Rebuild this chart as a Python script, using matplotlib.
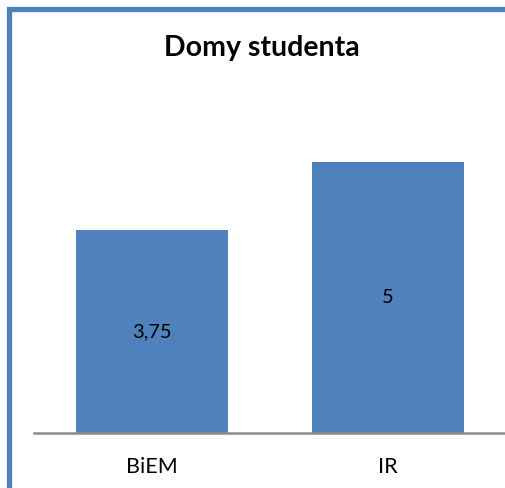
import matplotlib
matplotlib.use("Agg")
import matplotlib.pyplot as plt
from matplotlib.patches import Rectangle

categories = ["BiEM", "IR"]
values = [3.75, 5]
labels = ["3,75", "5"]
title = "Domy studenta"

W, H = 505, 488
fig = plt.figure(figsize=(W / 100, H / 100), dpi=100)
plt.rcParams['font.family'] = ['Lato', 'DejaVu Sans']

# outer border (left + top visible)
fig.patches.append(Rectangle((8.5 / W, -0.1), 1.2, (H - 9) / H + 0.1,
                             transform=fig.transFigure, fill=False,
                             edgecolor="#4F81BD", linewidth=3.8))

ax = fig.add_axes([34 / W, (H - 433) / H, 472 / W, (433 - 108) / H])
x = range(len(categories))
bars = ax.bar(x, values, width=0.644, color="#4F81BD", zorder=2)
ax.set_xlim(-0.5, 1.5)
ax.set_ylim(0, 6)
for s in ["left", "right", "top"]:
    ax.spines[s].set_visible(False)
ax.spines["bottom"].set_color("#8C8C8C")
ax.spines["bottom"].set_linewidth(1.8)
ax.set_yticks([])
ax.set_xticks(list(x))
ax.set_xticklabels(categories, fontsize=15.5)
ax.tick_params(axis="x", length=0, pad=17)
for b, lab in zip(bars, labels):
    ax.text(b.get_x() + b.get_width() / 2, b.get_height() / 2, lab,
            ha="center", va="center", fontsize=14.5, color="black")

fig.text(262 / W, 1 - 48 / H, title, ha="center", va="center",
         fontsize=20.5, fontweight="bold")

fig.savefig("out.png", dpi=100)
